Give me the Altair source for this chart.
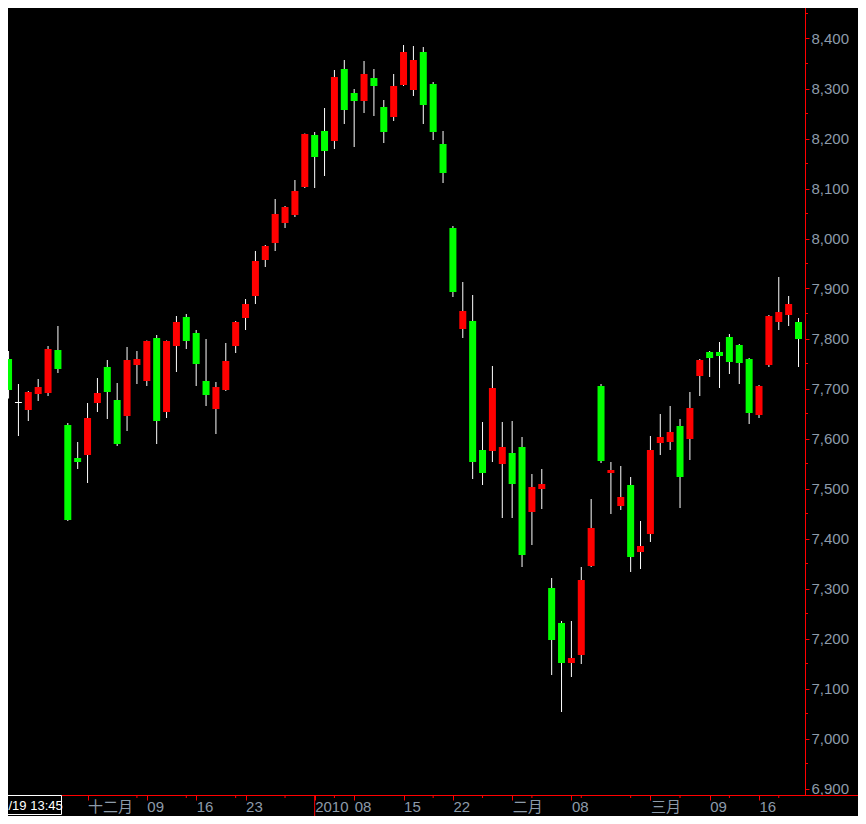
import json
import altair as alt
import pandas as pd

# OHLC values of the 81 sessions (index 0..80)
opens = [7759, 7672, 7657, 7689, 7691, 7777, 7627, 7561, 7567, 7671,
         7743, 7677, 7645, 7747, 7715, 7801, 7653, 7785, 7843, 7811,
         7715, 7659, 7697, 7785, 7841, 7885, 7957, 7991, 8031, 8047,
         8103, 8207, 8215, 8195, 8339, 8291, 8275, 8321, 8263, 8243,
         8307, 8297, 8373, 8309, 8189, 8021, 7819, 7835, 7577, 7575,
         7549, 7571, 7583, 7453, 7499, 7301, 7231, 7151, 7167, 7345,
         7705, 7531, 7465, 7507, 7373, 7409, 7591, 7593, 7625, 7599,
         7725, 7773, 7773, 7803, 7787, 7759, 7647, 7747, 7833, 7847,
         7833]
highs = [7775, 7709, 7695, 7719, 7785, 7825, 7631, 7593, 7671, 7721,
         7757, 7711, 7783, 7775, 7796, 7807, 7796, 7845, 7849, 7817,
         7799, 7713, 7791, 7835, 7879, 7975, 7987, 8079, 8065, 8117,
         8210, 8213, 8261, 8337, 8357, 8299, 8355, 8339, 8277, 8329,
         8387, 8385, 8383, 8313, 8215, 8025, 7913, 7887, 7633, 7745,
         7633, 7635, 7603, 7529, 7539, 7321, 7235, 7235, 7343, 7479,
         7709, 7553, 7545, 7523, 7435, 7605, 7649, 7665, 7639, 7693,
         7759, 7775, 7793, 7809, 7789, 7761, 7707, 7847, 7923, 7885,
         7841]
lows = [7680, 7605, 7635, 7675, 7685, 7731, 7435, 7539, 7511, 7653,
        7639, 7585, 7615, 7709, 7705, 7589, 7641, 7733, 7779, 7705,
        7665, 7609, 7695, 7771, 7817, 7869, 7943, 7975, 8021, 8043,
        8101, 8101, 8125, 8179, 8229, 8183, 8251, 8245, 8191, 8235,
        8305, 8285, 8229, 8197, 8111, 7883, 7801, 7519, 7507, 7553,
        7441, 7441, 7343, 7387, 7459, 7127, 7053, 7123, 7149, 7343,
        7551, 7449, 7457, 7333, 7339, 7393, 7567, 7577, 7461, 7557,
        7685, 7723, 7701, 7729, 7709, 7629, 7641, 7743, 7817, 7825,
        7743]
closes = [7697, 7672, 7693, 7703, 7779, 7739, 7437, 7553, 7641, 7691,
          7693, 7589, 7757, 7759, 7795, 7635, 7795, 7833, 7795, 7749,
          7687, 7703, 7755, 7833, 7869, 7955, 7985, 8049, 8063, 8095,
          8209, 8163, 8175, 8323, 8257, 8275, 8329, 8305, 8213, 8305,
          8373, 8357, 8267, 8213, 8131, 7893, 7855, 7553, 7531, 7701,
          7583, 7509, 7367, 7503, 7509, 7197, 7151, 7161, 7317, 7421,
          7555, 7537, 7483, 7363, 7385, 7577, 7603, 7613, 7523, 7661,
          7757, 7761, 7765, 7753, 7751, 7651, 7705, 7845, 7853, 7869,
          7799]

# axis labels
x_label_pos = [8, 14, 19, 24, 31, 35, 40, 45, 51, 57, 65, 71, 76]
x_label_txt = ["十二月", "09", "16", "23", "2010", "08", "15", "22", "二月", "08", "三月", "09", "16"]
x_minor_pos = [13, 18, 23, 28, 33, 43, 48, 53, 58, 63, 68, 73, 78]
y_major = list(range(6900, 8401, 100))
y_minor = list(range(6950, 8451, 100))
stamp_text = ["/19 13:45"]

RED = "#FF0000"
GREEN = "#00FF00"
LABEL = "#8D9BAA"
FONT = "Liberation Sans, Noto Sans CJK SC, sans-serif"

W, H = 797, 787
xs = alt.Scale(domain=[0.45, 80.15], nice=False, zero=False)
ys = alt.Scale(domain=[6887, 8461], nice=False, zero=False)

df = pd.DataFrame({"k": list(range(len(opens))), "o": opens, "h": highs, "l": lows, "c": closes})
df["lo"] = df[["o", "c"]].min(axis=1)
df["hi"] = df[["o", "c"]].max(axis=1)
df["dir"] = ["up" if c > o else ("down" if c < o else "flat") for o, c in zip(opens, closes)]
df["k0"] = df["k"] - 0.35
df["k1"] = df["k"] + 0.35

label_expr = "%s[indexof(%s, datum.value)]" % (
    json.dumps(x_label_txt, ensure_ascii=False), json.dumps(x_label_pos))

XAXIS = alt.Axis(
    orient="bottom", values=x_label_pos, labelExpr=label_expr, title=None, grid=False,
    domain=False, tickColor=RED, tickSize=5, labelAlign="left", labelBaseline="alphabetic",
    labelPadding=11, labelFontSize=15, labelFont=FONT, labelColor=LABEL,
    labelFlush=False, labelOverlap=False)
YAXIS = alt.Axis(
    orient="right", values=y_major, format=",d", title=None, grid=False,
    domain=False, tickColor=RED, tickSize=4, labelPadding=2, labelFontSize=15,
    labelFont=FONT, labelColor=LABEL, labelFlush=False, labelOverlap=False)

base = alt.Chart(df)

# wicks as 1px-wide bars so that they sit exactly on the pixel grid
wicks = base.mark_bar(size=1, color="white", clip=True).encode(
    x=alt.X("k:Q", scale=xs, axis=XAXIS, title=None),
    y=alt.Y("l:Q", scale=ys, axis=YAXIS, title=None),
    y2="h:Q",
)

bodies = base.mark_bar(size=7, clip=True).encode(
    x=alt.X("k:Q", scale=xs, axis=XAXIS, title=None),
    y=alt.Y("lo:Q", scale=ys, axis=YAXIS, title=None),
    y2="hi:Q",
    color=alt.Color("dir:N", scale=alt.Scale(domain=["up", "down", "flat"],
                                             range=[RED, GREEN, "white"]), legend=None),
)

doji = base.transform_filter("datum.dir == 'flat'").mark_rule(color="white", clip=True).encode(
    x=alt.X("k0:Q", scale=xs, axis=XAXIS, title=None),
    x2="k1:Q",
    y=alt.Y("o:Q", scale=ys, axis=YAXIS, title=None),
)

yminor = alt.Chart(pd.DataFrame({"v": y_minor})).mark_rule(color=RED).encode(
    x=alt.value(798), x2=alt.value(800),
    y=alt.Y("v:Q", scale=ys, axis=YAXIS, title=None),
)

xminor = alt.Chart(pd.DataFrame({"k": x_minor_pos})).mark_rule(color=RED).encode(
    x=alt.X("k:Q", scale=xs, axis=XAXIS, title=None),
    y=alt.value(787), y2=alt.value(790),
)

yearline = alt.Chart(pd.DataFrame({"k": [31]})).mark_rule(color=RED).encode(
    x=alt.X("k:Q", scale=xs, axis=XAXIS, title=None),
    y=alt.value(787), y2=alt.value(808),
)

one = pd.DataFrame({"t": stamp_text})
bottom_line = alt.Chart(one).mark_rect(color=RED).encode(
    x=alt.value(0), x2=alt.value(850), y=alt.value(787), y2=alt.value(788),
)
right_line = alt.Chart(one).mark_rect(color=RED).encode(
    x=alt.value(797), x2=alt.value(798), y=alt.value(0), y2=alt.value(788),
)

stamp_box = alt.Chart(one).mark_rect(fill="black", stroke="white", strokeWidth=1).encode(
    x=alt.value(-8), x2=alt.value(53.5), y=alt.value(787.5), y2=alt.value(806.5),
)
stamp_txt = alt.Chart(one).mark_text(color="white", fontSize=13, font=FONT,
                                     align="left", baseline="middle").encode(
    x=alt.value(0.5), y=alt.value(797.5), text="t:N",
)

chart = alt.layer(
    wicks, bodies, doji, yminor, xminor, yearline, bottom_line, right_line,
    stamp_box, stamp_txt
).properties(
    width=W, height=H,
    padding={"left": 0, "top": 0, "right": 53, "bottom": 21},
    autosize=alt.AutoSizeParams(type="none"),
    background="black",
).configure_view(stroke=None, fill="black")

chart.save("out.html", embed_options={"renderer": "svg", "actions": False})
